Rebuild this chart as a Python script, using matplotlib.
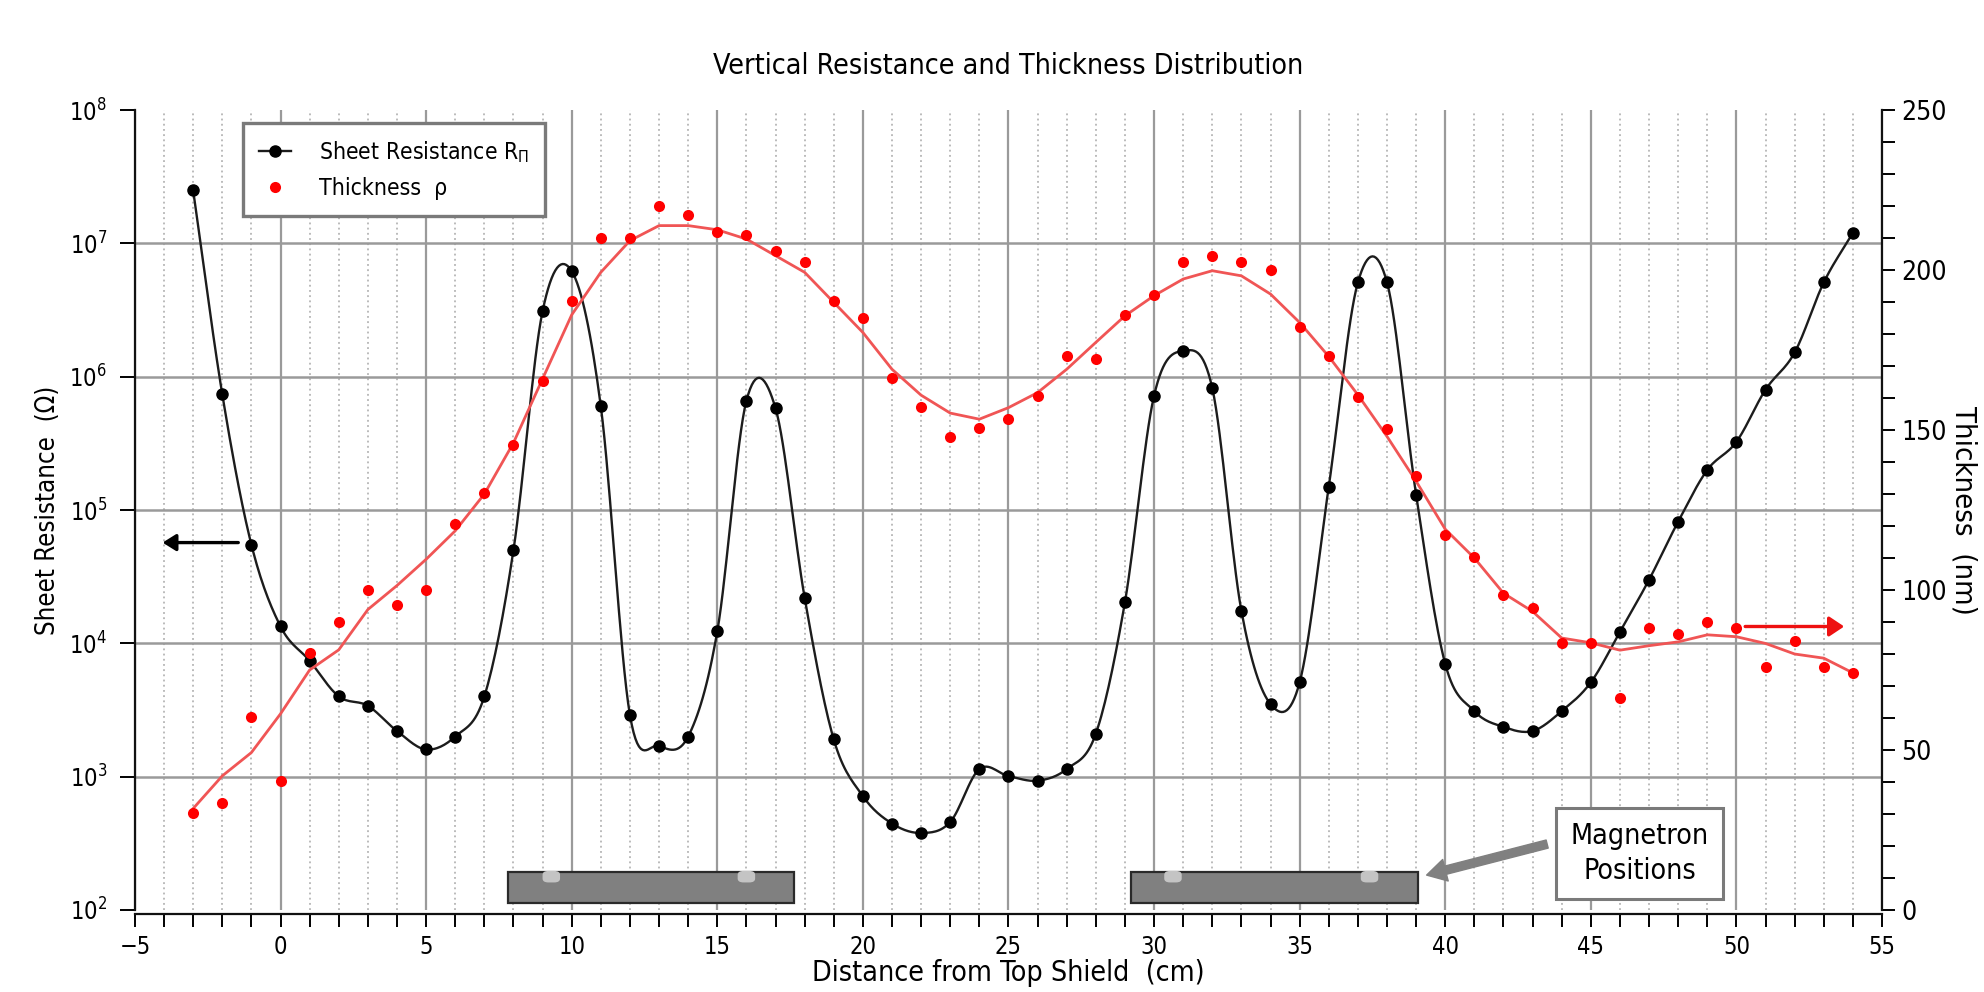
import numpy as np
import matplotlib.pyplot as plt
from matplotlib.lines import Line2D
from matplotlib.patches import Rectangle, FancyBboxPatch
from matplotlib.ticker import MultipleLocator, NullLocator, LogLocator

plt.rcParams["font.family"] = ["DejaVu Sans"]
plt.rcParams["font.stretch"] = "condensed"

# distance from top shield (cm), one reading per cm
position_cm = list(range(-3, 55))

sheet_resistance_ohm = [
    2.5e7, 7.4e5, 5.5e4, 1.34e4, 7.4e3, 4.0e3, 3.4e3, 2.2e3, 1.6e3, 2.0e3,
    4.0e3, 5.0e4, 3.1e6, 6.2e6, 6.0e5, 2.9e3, 1.7e3, 2.0e3, 1.23e4, 6.6e5,
    5.8e5, 2.2e4, 1.9e3, 714, 445, 378, 457, 1.14e3, 1.01e3, 933,
    1.14e3, 2.1e3, 2.04e4, 7.2e5, 1.56e6, 8.2e5, 1.75e4, 3.5e3, 5.1e3, 1.5e5,
    5.1e6, 5.1e6, 1.3e5, 7.0e3, 3.1e3, 2.36e3, 2.2e3, 3.1e3, 5.1e3, 1.22e4,
    3.0e4, 8.2e4, 2.0e5, 3.25e5, 8.0e5, 1.52e6, 5.1e6, 1.2e7,
]

thickness_nm = [
    30.4, 33.3, 60.3, 40.3, 80.4, 89.9, 100.1, 95.3, 100.1, 120.5,
    130.4, 145.3, 165.3, 190.4, 209.9, 209.9, 220.1, 217.2, 211.8, 210.9,
    206.0, 202.4, 190.2, 184.9, 166.4, 157.3, 147.7, 150.5, 153.4, 160.7,
    173.2, 172.2, 186.1, 192.3, 202.4, 204.3, 202.4, 199.9, 182.2, 173.0,
    160.4, 150.3, 135.5, 117.1, 110.3, 98.3, 94.4, 83.3, 83.3, 66.3,
    88.0, 86.2, 89.9, 88.0, 76.0, 84.1, 76.0, 74.1,
]

# smoothed thickness trend line as drawn in the original
thickness_trend_nm = [
    31.7, 41.9, 49.2, 61.3, 75.0, 81.3, 93.9, 101.4, 109.6, 118.5,
    130.0, 146.0, 166.0, 186.0, 199.3, 209.2, 213.9, 213.9, 212.6, 209.7,
    204.5, 199.3, 189.9, 180.5, 169.0, 160.9, 155.3, 153.4, 157.0, 161.7,
    169.0, 177.4, 185.7, 192.0, 197.2, 199.8, 198.2, 192.5, 183.6, 173.0,
    161.0, 148.0, 134.0, 119.0, 110.0, 99.0, 93.3, 85.0, 83.5, 81.2,
    82.6, 83.8, 86.0, 85.4, 83.3, 80.0, 78.7, 74.1,
]

magnetron_spans = [(7.8, 17.65), (29.2, 39.05)]
magnetron_slots = [9.3, 16.0, 30.65, 37.4]


def smooth_line(x, y, steps=16):
    # cubic hermite with catmull-rom tangents, like a spreadsheet "smoothed line"
    x = np.asarray(x, float)
    y = np.asarray(y, float)
    m = np.gradient(y, x)
    t = np.linspace(0, 1, steps, endpoint=False)
    h00 = 2 * t**3 - 3 * t**2 + 1
    h10 = t**3 - 2 * t**2 + t
    h01 = -2 * t**3 + 3 * t**2
    h11 = t**3 - t**2
    xs, ys = [], []
    for i in range(len(x) - 1):
        h = x[i + 1] - x[i]
        xs.append(x[i] + h * t)
        ys.append(h00 * y[i] + h10 * h * m[i] + h01 * y[i + 1] + h11 * h * m[i + 1])
    xs.append([x[-1]])
    ys.append([y[-1]])
    return np.concatenate(xs), np.concatenate(ys)


fig, ax = plt.subplots(figsize=(19.84, 9.92), dpi=100)
fig.subplots_adjust(left=0.068, right=0.9486, bottom=0.0827, top=0.889)
ax2 = ax.twinx()

grid_color = "#9a9a9a"
ax.set_xlim(-5, 55)
ax.set_yscale("log")
ax.set_ylim(1e2, 1e8)
ax2.set_ylim(0, 250)

# grid
ax.xaxis.set_major_locator(MultipleLocator(5))
ax.xaxis.set_minor_locator(MultipleLocator(1))
ax.yaxis.set_major_locator(LogLocator(base=10, numticks=10))
ax.yaxis.set_minor_locator(NullLocator())
ax.grid(which="major", axis="x", color=grid_color, lw=1.6, ls="-")
ax.grid(which="minor", axis="x", color="#a8a8a8", lw=1.1, ls=(0, (1.2, 2.2)))
for decade in [1e3, 1e4, 1e5, 1e6, 1e7]:
    ax.axhline(decade, color=grid_color, lw=1.8, zorder=0.8)
ax.set_axisbelow(True)

# sheet resistance
xs, ys = smooth_line(position_cm, np.log10(sheet_resistance_ohm))
ax.plot(xs, 10**ys, color="#1c1c1c", lw=1.7, zorder=3)
ax.plot(position_cm, sheet_resistance_ohm, "o", color="black", ms=8, zorder=4)

# thickness
ax2.plot(position_cm, thickness_trend_nm, color="#f05555", lw=2.0, zorder=3)
ax2.plot(position_cm, thickness_nm, "o", color="#ff0000", ms=8, mec="none", zorder=4)

# magnetrons
for x0, x1 in magnetron_spans:
    ax2.add_patch(Rectangle((x0, 2.1), x1 - x0, 9.9, fc="#808080", ec="#2a2a2a", lw=1.6, zorder=5))
for xc in magnetron_slots:
    ax2.add_patch(FancyBboxPatch((xc - 0.3, 8.6), 0.6, 3.6, boxstyle="round,pad=0,rounding_size=0.2",
                                 mutation_aspect=6, fc="#c4c4c4", ec="none", zorder=6))

ax2.text(46.67, 17.6, "Magnetron\nPositions", ha="center", va="center", fontsize=20.5,
         linespacing=1.3,
         bbox=dict(boxstyle="square,pad=0.5", fc="white", ec="#7a7a7a", lw=2.2), zorder=7)
ax2.annotate("", xy=(39.36, 10.9), xytext=(43.5, 20.6),
             arrowprops=dict(arrowstyle="simple,head_length=0.7,head_width=0.8,tail_width=0.3",
                             mutation_scale=20, fc="#808080", ec="#808080", shrinkA=0, shrinkB=0),
             zorder=7)

# axis-side arrows
ax.annotate("", xy=(-4.05, 5.7e4), xytext=(-1.45, 5.7e4),
            arrowprops=dict(arrowstyle="-|>,head_length=0.4,head_width=0.25", mutation_scale=20,
                            lw=2.4, color="black", shrinkA=0, shrinkB=0))
ax2.annotate("", xy=(53.7, 88.6), xytext=(50.3, 88.6),
             arrowprops=dict(arrowstyle="-|>,head_length=0.45,head_width=0.3", mutation_scale=20,
                             lw=2.4, color="#ee1111", shrinkA=0, shrinkB=0))

# spines and ticks
for side in ["top", "right"]:
    ax.spines[side].set_visible(False)
for side in ["top", "left", "bottom"]:
    ax2.spines[side].set_visible(False)
ax.spines["bottom"].set_position(("outward", 3))
for sp in [ax.spines["left"], ax.spines["bottom"], ax2.spines["right"]]:
    sp.set_linewidth(1.6)
    sp.set_color("#111111")

ax.tick_params(axis="x", which="both", direction="out", length=9, width=1.4, labelsize=17, pad=6)
ax.tick_params(axis="y", which="major", direction="out", length=11, width=1.4, labelsize=17, pad=9)
ax2.yaxis.set_major_locator(MultipleLocator(50))
ax2.yaxis.set_minor_locator(MultipleLocator(10))
ax2.tick_params(axis="y", which="both", direction="out", length=9, width=1.4, labelsize=19, pad=5)

ax.set_title("Vertical Resistance and Thickness Distribution", fontsize=20.5, pad=26)
ax.set_xlabel("Distance from Top Shield  (cm)", fontsize=20.5, labelpad=0)
ax.set_ylabel("Sheet Resistance  (\u03a9)", fontsize=18.5, labelpad=6)
ax2.set_ylabel("Thickness  (nm)", fontsize=21, rotation=270, labelpad=22)

legend_handles = [
    Line2D([0], [0], color="#1c1c1c", lw=1.7, marker="o", ms=8, mfc="black", mec="black",
           label="Sheet Resistance R$_{\\Pi}$"),
    Line2D([0], [0], color="none", marker="o", ms=8, mfc="#ff0000", mec="none",
           label="Thickness  \u03c1"),
]
leg = ax2.legend(handles=legend_handles, loc="upper left", bbox_to_anchor=(0.0618, 0.984),
                 borderaxespad=0, fontsize=16.5, frameon=True, fancybox=False, edgecolor="#7a7a7a",
                 framealpha=1, borderpad=0.7, handlelength=1.4, handletextpad=1.2, labelspacing=0.55)
leg.get_frame().set_linewidth(2.4)
leg.set_zorder(10)

fig.savefig("out.png", dpi=100)
